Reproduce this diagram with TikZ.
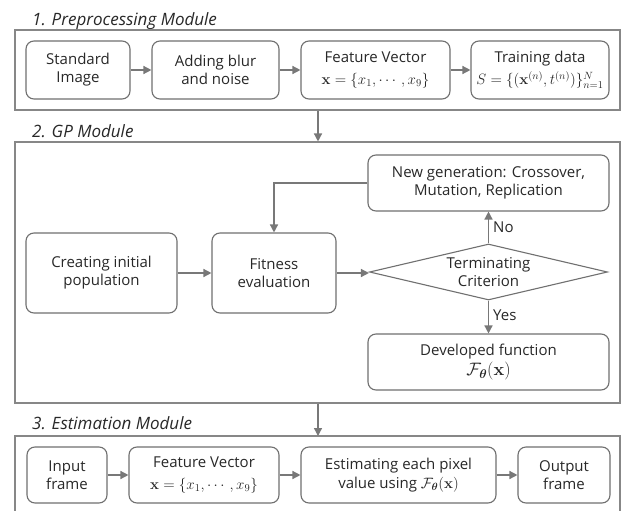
\RequirePackage{fix-cm}
\documentclass[tikz,border=0pt]{standalone}
\usepackage{amsmath}
\usepackage{bm}
\usepackage[no-math]{fontspec}
\setmainfont{Open Sans}
\usetikzlibrary{arrows.meta,shapes.geometric}

\definecolor{boxline}{RGB}{112,112,112}
\definecolor{frameline}{RGB}{135,135,135}
\definecolor{arrowgray}{RGB}{120,120,120}
\definecolor{inkgray}{RGB}{40,40,40}

\tikzset{
  stepbox/.style={draw=boxline, line width=1.1pt, rounded corners=8pt,
    align=center, inner sep=0pt, text=inkgray,
    font=\fontsize{15}{18}\selectfont},
  modframe/.style={draw=frameline, line width=1.1pt, inner sep=0pt},
  modtitle/.style={anchor=base west, text=inkgray, inner sep=0pt,
    font=\fontsize{17}{20}\selectfont\itshape},
  flow/.style={draw=arrowgray, line width=1.4pt,
    -{Triangle[length=8pt,width=8pt]}},
  decision/.style={diamond, draw=boxline, line width=1.1pt, inner sep=0pt,
    aspect=4.25, minimum width=238pt, minimum height=56pt, align=center,
    text=inkgray, font=\fontsize{15}{18}\selectfont},
  branch/.style={anchor=west, text=inkgray, inner sep=0pt,
    font=\fontsize{15}{18}\selectfont},
}

\newcommand{\Ftheta}{\mathcal{F}_{\bm{\theta}}\mathbf{(x)}}
\newcommand{\featvec}{\mathbf{x}=\{x_1,\cdots,x_9\}}

\begin{document}
\begin{tikzpicture}[x=1pt,y=-1pt]
\useasboundingbox (0,0) rectangle (621,511);
\fill[white] (0,0) rectangle (621,511);

% ---- module frames and titles
\node[modframe, minimum width=605pt, minimum height=80pt] (fr1) at (317.5,70) {};
\node[modframe, minimum width=605pt, minimum height=261pt] (fr2) at (317.5,272.5) {};
\coordinate (fr3nw) at (15,436);
\coordinate (fr3ne) at (620,436);
\coordinate (fr3sw) at (15,511);
\coordinate (fr3se) at (620,511);
\draw[frameline, line width=1.1pt] (fr3sw) -- (fr3nw) -- (fr3ne) -- (fr3se);

\node[modtitle] (t1) at (32,26) {1. Preprocessing Module};
\node[modtitle] (t2) at (32,137) {2. GP Module};
\node[modtitle] (t3) at (32,429) {3. Estimation Module};

% ---- preprocessing row
\node[stepbox, minimum width=104pt, minimum height=58pt] (std) at (78,70) {Standard\\Image};
\node[stepbox, minimum width=127pt, minimum height=58pt] (blur) at (215.5,70) {Adding blur\\and noise};
\node[stepbox, minimum width=149pt, minimum height=58pt] (fv1) at (375.5,70)
  {Feature Vector\\[4pt]$\featvec$};
\node[stepbox, minimum width=138pt, minimum height=58pt] (train) at (540,70)
  {Training data\\[4pt]$S=\{(\mathbf{x}^{(n)},t^{(n)})\}_{n=1}^{N}$};

\draw[flow] (std) -- (blur);
\draw[flow] (blur) -- (fv1);
\draw[flow] (fv1) -- (train);

% ---- GP loop
\node[stepbox, minimum width=241pt, minimum height=56pt] (newgen) at (488.5,183)
  {New generation: Crossover,\\Mutation, Replication};
\node[stepbox, minimum width=151pt, minimum height=80pt] (create) at (101.5,273)
  {Creating initial\\population};
\node[stepbox, minimum width=124pt, minimum height=80pt] (fit) at (274,273)
  {Fitness\\evaluation};
\node[decision] (term) at (488.5,272) {Terminating\\Criterion};
\node[stepbox, minimum width=241pt, minimum height=56pt] (dev) at (488.5,362)
  {Developed function\\[2pt]{\fontsize{18}{20}\selectfont$\Ftheta$}};

\draw[flow] (create) -- (fit);
\draw[flow] (fit.east) -- (fit.east -| term.west);
\draw[flow] (term.north) -- (newgen.south) node[branch, pos=0.5, xshift=4pt] (lno) {No};
\draw[flow] (term.south) -- (dev.north) node[branch, pos=0.45, xshift=4pt] (lyes) {Yes};
\draw[flow] (newgen.west) -| (fit.north);

% ---- estimation row
\node[stepbox, minimum width=80pt, minimum height=56pt] (inp) at (67,475) {Input\\frame};
\node[stepbox, minimum width=150pt, minimum height=56pt] (fv2) at (204,475)
  {Feature Vector\\[4pt]$\featvec$};
\node[stepbox, minimum width=195pt, minimum height=56pt] (estim) at (398.5,475)
  {Estimating each pixel\\[1pt]value using $\Ftheta$};
\node[stepbox, minimum width=92pt, minimum height=56pt] (outp) at (564,475) {Output\\frame};

\draw[flow] (inp) -- (fv2);
\draw[flow] (fv2) -- (estim);
\draw[flow] (estim) -- (outp);

% ---- hand-over between modules
\coordinate (drop) at (318,0);
\draw[flow] (fr1.south -| drop) -- (fr2.north -| drop);
\draw[flow] (fr2.south -| drop) -- (fr3nw -| drop);
\end{tikzpicture}
\end{document}
